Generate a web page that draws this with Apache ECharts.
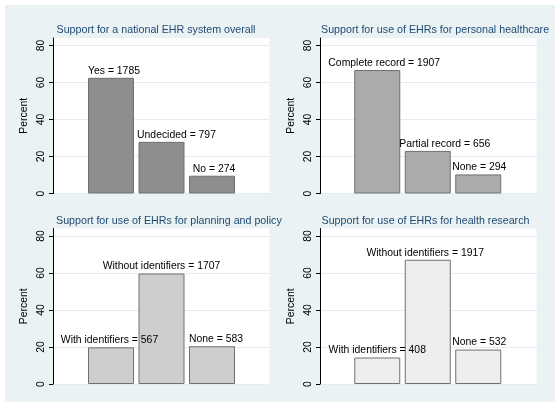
<!DOCTYPE html>
<html><head><meta charset="utf-8">
<script src="https://cdn.jsdelivr.net/npm/echarts@6/dist/echarts.min.js"></script>
<style>
html,body{margin:0;padding:0;background:#fff;width:560px;height:410px;overflow:hidden}
#c{position:absolute;left:5px;top:5px;width:550px;height:397px}
</style></head>
<body><div id="c"></div>
<script>
// ---- data ----
const panelTitles = [
  'Support for a national EHR system overall',
  'Support for use of EHRs for personal healthcare',
  'Support for use of EHRs for planning and policy',
  'Support for use of EHRs for health research'
];
const categoriesOverall = ['Yes', 'Undecided', 'No'];
const countsOverall = [1785, 797, 274];
const percentOverall = [62.5, 27.9, 9.6];

const categoriesPersonal = ['Complete record', 'Partial record', 'None'];
const countsPersonal = [1907, 656, 294];
const percentPersonal = [66.7, 23.0, 10.3];

const categoriesPlanning = ['With identifiers', 'Without identifiers', 'None'];
const countsPlanning = [567, 1707, 583];
const percentPlanning = [19.8, 59.7, 20.4];

const categoriesResearch = ['With identifiers', 'Without identifiers', 'None'];
const countsResearch = [408, 1917, 532];
const percentResearch = [14.3, 67.1, 18.6];

const yTickValues = [0, 20, 40, 60, 80];
const yAxisName = 'Percent';

// ---- layout / style ----
const OX = 5, OY = 5;
const panels = [
  {cats: categoriesOverall, n: countsOverall, p: percentOverall},
  {cats: categoriesPersonal, n: countsPersonal, p: percentPersonal},
  {cats: categoriesPlanning, n: countsPlanning, p: percentPlanning},
  {cats: categoriesResearch, n: countsResearch, p: percentResearch}
];
const plotLeft = [53, 320, 53, 320];
const plotTop = [38, 38, 228.5, 228.5];
const plotW = 216.5, plotH = 155.5;
const barLeft = [85.75, 352, 85.75, 352];
const barAreaW = 151.5;
const titleTop = [24.5, 24.5, 216, 216];
const titleLeft = [56.5, 321, 56, 321.5];
const barColors = ['#8e8e8e', '#ababab', '#cecece', '#eeeeee'];
const labelDx = [[3, 15, 2], [7, 17, 1], [-1.5, 0, 4], [0, -2.5, 1]];
const yMax = 84;
const FONT = '"Liberation Sans", Arial, Helvetica, sans-serif';

const option = {
  backgroundColor: '#eaf2f3',
  animation: false,
  textStyle: {fontFamily: FONT},
  title: [], grid: [], xAxis: [], yAxis: [], series: []
};

panels.forEach((pn, i) => {
  option.title.push({
    text: panelTitles[i], left: titleLeft[i] - OX, top: titleTop[i] - OY, padding: 0,
    textStyle: {fontSize: 10.7, fontWeight: 'normal', color: '#1f4a75', fontFamily: FONT}
  });
  // axis grid (white plot region)
  option.grid.push({
    left: plotLeft[i] - OX, top: plotTop[i] - OY, width: plotW, height: plotH,
    show: true, backgroundColor: '#ffffff', borderWidth: 0, containLabel: false
  });
  // bar grid
  option.grid.push({
    left: barLeft[i] - OX, top: plotTop[i] - OY, width: barAreaW, height: plotH,
    show: false, containLabel: false
  });
  const ga = 2 * i, gb = 2 * i + 1;
  option.xAxis.push({gridIndex: ga, type: 'value', min: 0, max: 1, show: false});
  option.xAxis.push({gridIndex: gb, type: 'category', data: pn.cats, show: false, boundaryGap: true});
  option.yAxis.push({
    gridIndex: ga, type: 'value', min: 0, max: yMax, interval: 20,
    name: yAxisName, nameLocation: 'middle', nameGap: 23.5, nameRotate: 90,
    nameTextStyle: {fontSize: 10.4, color: '#000', fontFamily: FONT},
    axisLine: {show: true, lineStyle: {color: '#000', width: 1}},
    axisTick: {show: true, length: 4, lineStyle: {color: '#000', width: 1}, customValues: yTickValues},
    axisLabel: {show: true, rotate: 90, margin: 7, fontSize: 10.4, color: '#000', fontFamily: FONT, customValues: yTickValues},
    splitLine: {show: true, lineStyle: {color: '#e3ecee', width: 1}}
  });
  option.yAxis.push({gridIndex: gb, type: 'value', min: 0, max: yMax, show: false, splitLine: {show: false}});
  option.series.push({
    type: 'bar', xAxisIndex: gb, yAxisIndex: gb, barWidth: 46,
    itemStyle: {color: barColors[i], borderColor: '#707070', borderWidth: 1},
    data: pn.p.map((v, k) => ({
      value: v,
      label: {
        show: true, position: 'top', distance: 2, offset: [labelDx[i][k], 0],
        formatter: pn.cats[k] + ' = ' + pn.n[k],
        fontSize: 10.4, color: '#000', fontFamily: FONT
      }
    }))
  });
});

const chart = echarts.init(document.getElementById('c'), null, {renderer: 'canvas'});
chart.setOption(option);
</script>
</body></html>
